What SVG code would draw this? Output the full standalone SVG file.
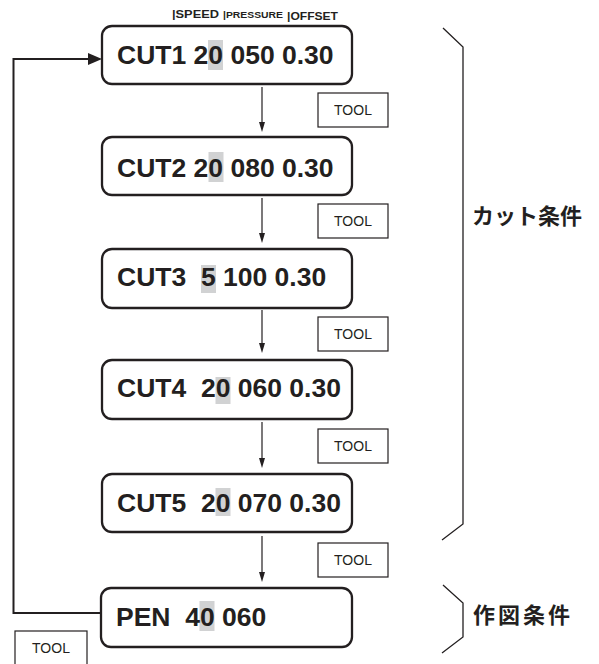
<svg xmlns="http://www.w3.org/2000/svg" width="599" height="664" viewBox="0 0 599 664">
<style>
.box{fill:#fff;stroke:#231f20;stroke-width:2.3}
.hl{fill:#d1d2d3}
.lbl{font-family:"Liberation Sans",Arial,sans-serif;font-weight:bold;font-size:26.5px;fill:#231f20}
.tool{fill:#fff;stroke:#231f20;stroke-width:1.2}
.tt{font-family:"Liberation Sans",Arial,sans-serif;font-size:14px;fill:#231f20;text-anchor:middle}
.hd{font-family:"Liberation Sans",Arial,sans-serif;font-weight:bold;fill:#231f20}
.arr{stroke:#231f20;stroke-width:1.2;fill:none}
.loop{stroke:#231f20;stroke-width:2;fill:none}
.br{stroke:#231f20;stroke-width:1.3;fill:none}
.jp{font-family:"Noto Sans CJK JP","Noto Sans CJK SC",sans-serif;font-weight:bold;font-size:22px;fill:#231f20}
</style>
<g id="header">
<text class="hd" x="172" y="18.3" font-size="11.5" textLength="47" lengthAdjust="spacingAndGlyphs">|SPEED</text>
<text class="hd" x="223" y="18.3" font-size="9.5" textLength="60" lengthAdjust="spacingAndGlyphs">|PRESSURE</text>
<text class="hd" x="287" y="20" font-size="11.5" textLength="51" lengthAdjust="spacingAndGlyphs">|OFFSET</text>
</g>
<g id="connectors">
<path class="loop" d="M101,613 H13.5 V59 H90"/>
<path d="M88,53 L102,59 L88,65 Z" fill="#231f20"/>
<path class="arr" d="M262,87 V122"/><path d="M259,122 L262,132 L265,122 Z" fill="#231f20"/>
<path class="arr" d="M262,198 V233"/><path d="M259,233 L262,243 L265,233 Z" fill="#231f20"/>
<path class="arr" d="M262,310 V343"/><path d="M259,343 L262,353 L265,343 Z" fill="#231f20"/>
<path class="arr" d="M262,422 V458"/><path d="M259,458 L262,468 L265,458 Z" fill="#231f20"/>
<path class="arr" d="M262,536 V572"/><path d="M259,572 L262,582 L265,572 Z" fill="#231f20"/>
</g>
<g id="cut1">
<rect class="box" x="102" y="26" width="250" height="58" rx="10"/>
<rect class="hl" x="208" y="40" width="15" height="30"/>
<text class="lbl" x="117" y="64" xml:space="preserve">CUT1 20 050 0.30</text>
</g>
<g id="cut2">
<rect class="box" x="102" y="137" width="250" height="58" rx="10"/>
<rect class="hl" x="208.5" y="152" width="15" height="30"/>
<text class="lbl" x="117" y="177" xml:space="preserve">CUT2 20 080 0.30</text>
</g>
<g id="cut3">
<rect class="box" x="102" y="249" width="250" height="59" rx="10"/>
<rect class="hl" x="201" y="265" width="15" height="28"/>
<text class="lbl" x="117" y="286" xml:space="preserve">CUT3  5 100 0.30</text>
</g>
<g id="cut4">
<rect class="box" x="102" y="360" width="250" height="59" rx="10"/>
<rect class="hl" x="215.5" y="377" width="15" height="27"/>
<text class="lbl" x="117" y="397" xml:space="preserve">CUT4  20 060 0.30</text>
</g>
<g id="cut5">
<rect class="box" x="102" y="474" width="250" height="58" rx="10"/>
<rect class="hl" x="215.5" y="488" width="15" height="28"/>
<text class="lbl" x="117" y="511.5" xml:space="preserve">CUT5  20 070 0.30</text>
</g>
<g id="pen">
<rect class="box" x="101" y="588" width="251" height="59" rx="10"/>
<rect class="hl" x="199.5" y="601" width="15" height="30"/>
<text class="lbl" x="116" y="626" xml:space="preserve">PEN  40 060</text>
</g>
<g id="tool1"><rect class="tool" x="318" y="93" width="70" height="34"/><text class="tt" x="353" y="115">TOOL</text></g>
<g id="tool2"><rect class="tool" x="318" y="204" width="70" height="34"/><text class="tt" x="353" y="226">TOOL</text></g>
<g id="tool3"><rect class="tool" x="318" y="317" width="70" height="34"/><text class="tt" x="353" y="339">TOOL</text></g>
<g id="tool4"><rect class="tool" x="318" y="429" width="70" height="34"/><text class="tt" x="353" y="451">TOOL</text></g>
<g id="tool5"><rect class="tool" x="318" y="543" width="70" height="34"/><text class="tt" x="353" y="565">TOOL</text></g>
<g id="tool6"><rect class="tool" x="15" y="631" width="72" height="40"/><text class="tt" x="51" y="653">TOOL</text></g>
<g id="cut-brace">
<path class="br" d="M443,28 L463,47 V524 L442,540"/>
<text class="jp" x="472" y="224">カット条件</text>
</g>
<g id="pen-brace">
<path class="br" d="M443,585 L463,603 V637 L442,653"/>
<text class="jp" x="473" y="623" letter-spacing="3">作図条件</text>
</g>
</svg>
